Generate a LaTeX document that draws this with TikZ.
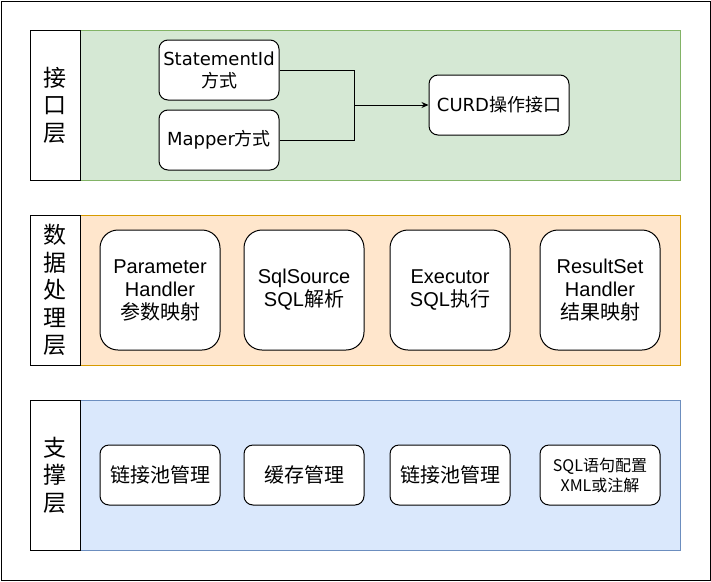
\documentclass[tikz,border=0pt]{standalone}
\usepackage{fontspec}
\setmainfont{Liberation Sans}
\newfontfamily\cjk{Noto Sans CJK SC}
\newfontfamily\wideface{DejaVu Sans}
\newcommand{\zhtext}[1]{{\cjk #1}}
\usetikzlibrary{arrows.meta}
\definecolor{gfill}{HTML}{D5E8D4}\definecolor{gline}{HTML}{82B366}
\definecolor{ofill}{HTML}{FFE6CC}\definecolor{oline}{HTML}{D79B00}
\definecolor{bfill}{HTML}{DAE8FC}\definecolor{bline}{HTML}{6C8EBF}
\tikzset{
  layerlabel/.style={draw=black,fill=white,line width=1pt,minimum width=50pt,minimum height=150pt,inner sep=0pt,align=center,font=\cjk\fontsize{23}{27.5}\selectfont},
  panel/.style={line width=1pt,minimum width=600pt,minimum height=150pt,inner sep=0pt},
  smallbox/.style={draw=black,fill=white,line width=1pt,rounded corners=9pt,minimum width=120pt,minimum height=60pt,inner sep=0pt,align=center},
  topfont/.style={font=\wideface\fontsize{18}{22}\selectfont},
  bigbox/.style={draw=black,fill=white,line width=1pt,rounded corners=18pt,minimum width=120pt,minimum height=120pt,inner sep=0pt,align=center,font=\fontsize{20}{23}\selectfont},
  link/.style={draw=black,line width=1pt},
}
\begin{document}
\begin{tikzpicture}[x=1pt,y=-1pt]
\useasboundingbox (0,0) rectangle (711,581);
\draw[line width=1pt] (1,1) rectangle (710,580);
% layer 1
\node[panel,fill=gfill,draw=gline] (p1) at (380,105) {};
\node[layerlabel] (l1) at (55,105) {接\\口\\层};
\node[smallbox,topfont] (stmt) at (219,70) {StatementId\\\zhtext{方式}};
\node[smallbox,topfont] (mapper) at (219,140) {Mapper\zhtext{方式}};
\node[smallbox,topfont,minimum width=140pt] (curd) at (499,105) {CURD\zhtext{操作接口}};
\coordinate (j) at (354,105);
\draw[link] (stmt.east) -| (j);
\draw[link] (mapper.east) -| (j);
\draw[link,-{Stealth[length=7pt,width=6pt]}] (j) -- (curd.west);
% layer 2
\node[panel,fill=ofill,draw=oline] (p2) at (380,290) {};
\node[layerlabel] (l2) at (55,290) {数\\据\\处\\理\\层};
\node[bigbox] (param) at (160,290) {Parameter\\Handler\\\zhtext{参数映射}};
\node[bigbox] (sqlsrc) at (304,290) {SqlSource\\SQL\zhtext{解析}};
\node[bigbox] (exec) at (450,290) {Executor\\SQL\zhtext{执行}};
\node[bigbox] (rs) at (600,290) {ResultSet\\Handler\\\zhtext{结果映射}};
% layer 3
\node[panel,fill=bfill,draw=bline] (p3) at (380,475) {};
\node[layerlabel] (l3) at (55,475) {支\\撑\\层};
\node[smallbox,font=\cjk\fontsize{20}{24}\selectfont] (pool1) at (160,475) {链接池管理};
\node[smallbox,font=\cjk\fontsize{20}{24}\selectfont] (cache) at (304,475) {缓存管理};
\node[smallbox,font=\cjk\fontsize{20}{24}\selectfont] (pool2) at (450,475) {链接池管理};
\node[smallbox,font=\cjk\fontsize{16}{20}\selectfont] (sqlcfg) at (600,475) {SQL语句配置\\XML或注解};
\end{tikzpicture}
\end{document}
